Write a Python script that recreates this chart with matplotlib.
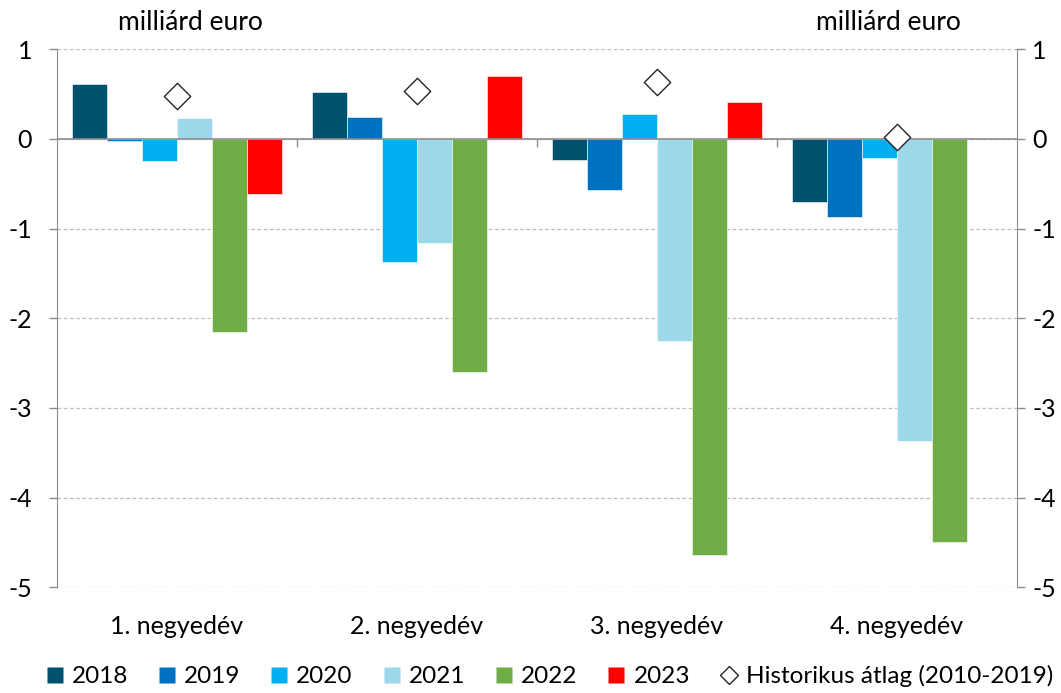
import matplotlib
matplotlib.use("Agg")
import matplotlib.pyplot as plt
from matplotlib.lines import Line2D
import numpy as np

plt.rcParams['font.family'] = ['Lato', 'DejaVu Sans']

categories = ["1. negyedév", "2. negyedév", "3. negyedév", "4. negyedév"]
years = ["2018", "2019", "2020", "2021", "2022", "2023"]
v2018 = [0.61, 0.52, -0.23, -0.70]
v2019 = [-0.02, 0.25, -0.57, -0.87]
v2020 = [-0.245, -1.37, 0.28, -0.21]
v2021 = [0.23, -1.16, -2.25, -3.37]
v2022 = [-2.15, -2.60, -4.64, -4.50]
v2023 = [-0.61, 0.70, 0.41, np.nan]
hist_avg = [0.48, 0.53, 0.63, 0.02]
hist_label = "Historikus átlag (2010-2019)"
unit_label = "milliárd euro"
yticks = [1, 0, -1, -2, -3, -4, -5]

series = [v2018, v2019, v2020, v2021, v2022, v2023]
colors = ["#00506E", "#0070C0", "#00B0F0", "#9DD7EA", "#70AD47", "#FF0000"]

fig = plt.figure(figsize=(10.61, 6.93), dpi=100)
ax = fig.add_axes([57/1061, 1-587.3/693, 960/1061, 538/693])

x = np.arange(len(categories))
w = 0.875 / 6
bar_handles = []
for i, (vals, col, lab) in enumerate(zip(series, colors, years)):
    ax.bar(x + (i - 2.5) * w, vals, width=w, color=col, label=lab,
           edgecolor="white", linewidth=0.4, zorder=3)
    bar_handles.append(Line2D([], [], marker="s", linestyle="none", markersize=11,
                              markerfacecolor=col, markeredgecolor="none"))

ax.scatter(x, hist_avg, marker="D", s=180, facecolor="white", edgecolor="#262626",
           linewidth=1.0, zorder=5, label=hist_label)

ax.set_xlim(-0.5, len(categories) - 0.5)
ax.set_ylim(-5, 1)
ax.set_yticks(yticks)
ax.set_yticklabels([str(t) for t in yticks])
for t in yticks:
    ax.axhline(t, color="#BFBFBF", linestyle=(0, (3, 2)), linewidth=0.9, zorder=1)
ax.axhline(0, color="#8C8C8C", linewidth=1.2, zorder=4)

for s in ["top", "bottom", "right"]:
    ax.spines[s].set_visible(False)
ax.spines["left"].set_color("#8C8C8C")
ax.tick_params(axis="y", colors="#8C8C8C", labelcolor="black", labelsize=18,
               length=6, width=1, pad=12)
ax.set_xticks(x)
ax.set_xticklabels(categories, fontsize=18)
ax.tick_params(axis="x", length=0, pad=20)

sec = ax.secondary_xaxis(0, transform=ax.transData)
sec.set_xticks(x[:-1] + 0.5)
sec.set_xticklabels([])
sec.tick_params(axis="x", length=6, width=1, colors="#8C8C8C", direction="out")
sec.spines["bottom"].set_visible(False)

ax2 = ax.twinx()
ax2.set_ylim(ax.get_ylim())
ax2.set_yticks(yticks)
ax2.set_yticklabels([str(t) for t in yticks])
for s in ["top", "bottom", "left"]:
    ax2.spines[s].set_visible(False)
ax2.spines["right"].set_color("#8C8C8C")
ax2.tick_params(axis="y", colors="#8C8C8C", labelcolor="black", labelsize=18,
                length=6, width=1, pad=5)

fig.text(190/1061, 1-22/693, unit_label, ha="center", va="center", fontsize=19)
fig.text(888/1061, 1-22/693, unit_label, ha="center", va="center", fontsize=19)

diamond_handle = Line2D([], [], marker="D", linestyle="none", markersize=9,
                        markerfacecolor="white", markeredgecolor="#262626",
                        markeredgewidth=1.0)
fig.legend(bar_handles + [diamond_handle], years + [hist_label], loc="center",
           bbox_to_anchor=(0.518, 1-676/693), ncol=7, frameon=False, fontsize=17.5,
           handlelength=0.7, handletextpad=0.35, columnspacing=1.25)

fig.savefig("out.png", dpi=100)
